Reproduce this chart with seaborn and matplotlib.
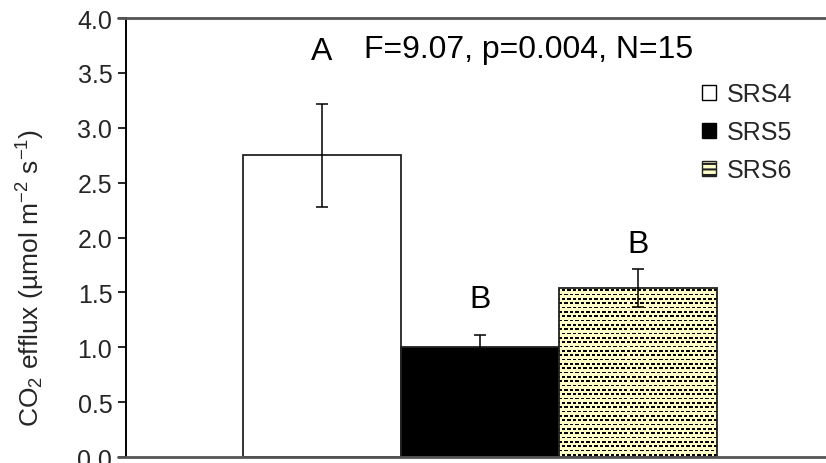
import numpy as np
import pandas as pd
import matplotlib
matplotlib.use("Agg")
import matplotlib.pyplot as plt
from matplotlib.patches import Patch
from matplotlib.lines import Line2D
import seaborn as sns

# Soil CO2 efflux by site
sites = ["SRS4", "SRS5", "SRS6"]
efflux = [2.75, 1.00, 1.54]
sem = [0.47, 0.11, 0.17]
letters = ["A", "B", "B"]
letter_y = [3.70, 1.44, 1.94]
stats_text = "F=9.07, p=0.004, N=15"
yticks = [0.0, 0.5, 1.0, 1.5, 2.0, 2.5, 3.0, 3.5, 4.0]

fills = ["#FFFFFF", "#000000", "#FFFFC8"]

sns.set_theme(style="white")
plt.rcParams["font.family"] = ["Liberation Sans", "DejaVu Sans"]
plt.rcParams["mathtext.fontset"] = "custom"
plt.rcParams["mathtext.rm"] = "Liberation Sans"
plt.rcParams["mathtext.it"] = "Liberation Sans"
plt.rcParams["hatch.linewidth"] = 1.5

fig = plt.figure(figsize=(8.26, 4.64), dpi=100)
ax = fig.add_axes([0.152, 0.0129, 0.848, 0.946])

df = pd.DataFrame({"site": sites, "efflux": efflux})
sns.barplot(data=df, x="site", y="efflux", hue="site", palette=fills,
            width=1.0, edgecolor="#222222", linewidth=1.3,
            legend=False, ax=ax, zorder=2)

# Dashed texture for the SRS6 bar
bar = ax.patches[2]
x0, w, h = bar.get_x(), bar.get_width(), bar.get_height()
p0 = ax.transData.transform((x0, 0))
p1 = ax.transData.transform((x0 + w, h))
npx_w = int(round(p1[0] - p0[0]))
npx_h = int(round(p1[1] - p0[1]))
tex = np.ones((npx_h, npx_w, 3))
tex[:, :] = [1.0, 1.0, 0.784]
for k, r in enumerate(range(2, npx_h, 6)):
    off = 0 if k % 2 == 0 else 4
    for c in range(off - 4, npx_w, 8):
        tex[r:r + 2, max(c, 0):max(c + 5, 0)] = 0.0
ax.imshow(tex, extent=(x0, x0 + w, 0, h), origin="upper",
          interpolation="nearest", aspect="auto", zorder=2.5,
          clip_path=bar, clip_on=True)
bar.set_zorder(3)
bar.set_facecolor("none")

ax.errorbar(range(len(sites)), efflux, yerr=sem, fmt="none",
            ecolor="black", elinewidth=1.1, capsize=4, capthick=1.1,
            zorder=4)

for i, (lab, ly) in enumerate(zip(letters, letter_y)):
    ax.text(i, ly, lab, ha="center", va="center", fontsize=23, color="black")

ax.text(1.31, 3.72, stats_text, ha="center", va="center", fontsize=23,
        color="black")

ax.set_xlim(-1.244, 3.19)
ax.set_ylim(0, 4.0)
ax.set_yticks(yticks)
ax.set_yticklabels([f"{t:.1f}" for t in yticks], fontsize=18)
ax.set_xticks([])
ax.set_xlabel("")
ax.set_ylabel("CO$_2$ efflux (µmol m$^{-2}$ s$^{-1}$)", fontsize=19)
ax.yaxis.set_label_coords(-0.112, 0.41)
ax.tick_params(axis="y", direction="out", length=5.5, width=1.2,
               color="black", left=True, pad=4)

for s in ["right", "top", "bottom"]:
    ax.spines[s].set_visible(False)
ax.spines["left"].set_color("black")
ax.spines["left"].set_linewidth(1.4)
for yy in (0.0, 1.0):
    ax.add_line(Line2D([-0.011, 1.0], [yy, yy], transform=ax.transAxes,
                       color="#555555", lw=2.0, clip_on=False, zorder=5))

handles = [
    Patch(facecolor="#FFFFFF", edgecolor="black", linewidth=1.0),
    Patch(facecolor="#000000", edgecolor="black", linewidth=1.0),
    Patch(facecolor="#FFFFC8", edgecolor="#222222", linewidth=1.0,
          hatch="---"),
]
ax.legend(handles, sites, loc="upper left", bbox_to_anchor=(0.809, 0.877),
          frameon=False, fontsize=18, handlelength=0.56, handleheight=0.56,
          handletextpad=0.44, labelspacing=0.56, borderaxespad=0)

fig.savefig("out.png", dpi=100)
